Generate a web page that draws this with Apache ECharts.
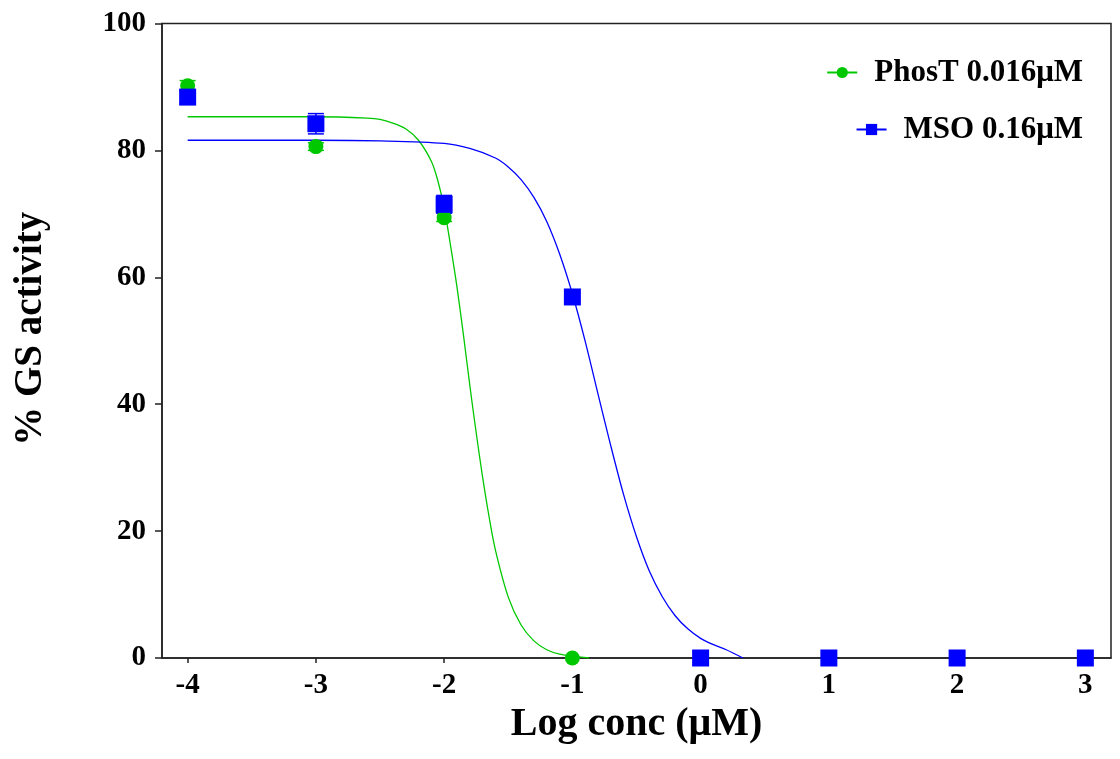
<!DOCTYPE html>
<html>
<head>
<meta charset="utf-8">
<script src="https://cdn.jsdelivr.net/npm/echarts@6/dist/echarts.min.js"></script>
<style>html,body{margin:0;padding:0;background:#fff}#c{width:1120px;height:759px}</style>
</head>
<body>
<div id="c"></div>
<script>
// ---- data ----
var xTicks = [-4, -3, -2, -1, 0, 1, 2, 3];
var yTicks = [0, 20, 40, 60, 80, 100];
var phosName = 'PhosT 0.016μM';
var msoName = 'MSO 0.16μM';
var phosX = [-4, -3, -2, -1];
var phosY = [90.2, 80.6, 69.4, 0];
var msoX = [-4, -3, -2, -1, 0, 1, 2, 3];
var msoY = [88.4, 84.2, 71.5, 56.9, 0, 0, 0, 0];
// error bars [x, low, high]
var phosErr = [[-4, 89.4, 91.0], [-3, 80.0, 81.2], [-2, 68.8, 70.2]];
var msoErr = [[-4, 87.4, 89.4], [-3, 82.6, 85.8], [-2, 70.1, 72.9], [-1, 56.2, 57.6]];
// fitted curves
var phosCurveX = [-4, -3, -2.6, -2.5, -2.4, -2.3, -2.2, -2.1, -2.05, -2.0, -1.95, -1.9, -1.85, -1.8, -1.75, -1.7, -1.65, -1.6, -1.5, -1.4, -1.3, -1.2, -1.1, -1.0, -0.87];
var phosCurveY = [85.3, 85.3, 85.1, 84.9, 84.3, 83.4, 81.6, 78.3, 75.3, 71.0, 65.0, 58.5, 51.0, 43.0, 35.5, 28.5, 22.3, 17.0, 9.6, 5.2, 2.7, 1.3, 0.6, 0.3, 0];
var msoCurveX = [-4, -3, -2.5, -2.0, -1.8, -1.6, -1.5, -1.4, -1.3, -1.2, -1.1, -1.0, -0.9, -0.8, -0.7, -0.6, -0.5, -0.4, -0.3, -0.2, -0.1, 0, 0.1, 0.2, 0.33];
var msoCurveY = [81.6, 81.6, 81.5, 81.1, 80.3, 78.8, 77.4, 75.4, 72.6, 68.8, 63.7, 57.4, 49.9, 41.6, 33.4, 25.7, 19.1, 13.7, 9.7, 6.7, 4.6, 3.1, 2.1, 1.3, 0];

var GREEN = '#00c800', BLUE = '#0000ff';
var FONT = 'Liberation Serif';

function zip(a, b) { return a.map(function (v, i) { return [v, b[i]]; }); }

function errRender(color) {
  return function (params, api) {
    var x = api.value(0), lo = api.value(1), hi = api.value(2);
    var p1 = api.coord([x, lo]), p2 = api.coord([x, hi]);
    var hw = 8;
    var st = { stroke: color, lineWidth: 1.5 };
    return { type: 'group', children: [
      { type: 'line', shape: { x1: p1[0], y1: p1[1], x2: p2[0], y2: p2[1] }, style: st },
      { type: 'line', shape: { x1: p1[0] - hw, y1: p1[1], x2: p1[0] + hw, y2: p1[1] }, style: st },
      { type: 'line', shape: { x1: p2[0] - hw, y1: p2[1], x2: p2[0] + hw, y2: p2[1] }, style: st }
    ]};
  };
}

var chart = echarts.init(document.getElementById('c'), null, { renderer: 'canvas' });
var legendText = { fontFamily: FONT, fontWeight: 'bold', fontSize: 31, color: '#000', padding: [0, 0, 0, 12] };
chart.setOption({
  backgroundColor: '#fff',
  animation: false,
  textStyle: { fontFamily: FONT },
  grid: { left: 162, right: 9, top: 23.5, bottom: 101, show: true, borderColor: '#222', borderWidth: 1.5, backgroundColor: 'transparent' },
  legend: [
    { data: [phosName], right: 32, top: 52, itemWidth: 30, itemHeight: 14, textStyle: legendText },
    { data: [msoName], right: 32, top: 109, itemWidth: 30, itemHeight: 14, textStyle: legendText }
  ],
  xAxis: {
    type: 'value', min: -4.2, max: 3.2,
    name: 'Log conc (μM)', nameLocation: 'middle', nameGap: 44,
    nameTextStyle: { fontFamily: FONT, fontWeight: 'bold', fontSize: 40, color: '#000' },
    axisLine: { show: true, onZero: false, lineStyle: { color: '#222', width: 1.5 } },
    axisTick: { show: true, length: 5, customValues: xTicks, lineStyle: { color: '#222', width: 1.5 } },
    axisLabel: { customValues: xTicks, margin: 13, fontFamily: FONT, fontWeight: 'bold', fontSize: 29, color: '#000' },
    splitLine: { show: false }
  },
  yAxis: {
    type: 'value', min: 0, max: 100, interval: 20,
    name: '% GS activity', nameLocation: 'middle', nameGap: 112, nameRotate: 90,
    nameTextStyle: { fontFamily: FONT, fontWeight: 'bold', fontSize: 39, color: '#000', padding: [0, 0, 0, 24] },
    axisLine: { show: true, onZero: false, lineStyle: { color: '#222', width: 1.5 } },
    axisTick: { show: true, length: 7, lineStyle: { color: '#222', width: 1.5 } },
    axisLabel: { margin: 16, fontFamily: FONT, fontWeight: 'bold', fontSize: 29, color: '#000' },
    splitLine: { show: false }
  },
  series: [
    { name: phosName, type: 'line', data: zip(phosCurveX, phosCurveY), smooth: 0.3, symbol: 'circle', symbolSize: 14, showSymbol: false,
      itemStyle: { color: GREEN }, lineStyle: { color: GREEN, width: 1.3 }, z: 2 },
    { name: msoName, type: 'line', data: zip(msoCurveX, msoCurveY), smooth: 0.3, symbol: 'rect', symbolSize: 14, showSymbol: false,
      itemStyle: { color: BLUE }, lineStyle: { color: BLUE, width: 1.3 }, z: 2 },
    { name: 'phosErr', type: 'custom', renderItem: errRender(GREEN), data: phosErr, encode: { x: 0, y: [1, 2] }, z: 3 },
    { name: 'msoErr', type: 'custom', renderItem: errRender(BLUE), data: msoErr, encode: { x: 0, y: [1, 2] }, z: 3 },
    { name: phosName, type: 'scatter', data: zip(phosX, phosY), symbol: 'circle', symbolSize: 15, itemStyle: { color: GREEN, opacity: 1 }, z: 4 },
    { name: msoName, type: 'scatter', data: zip(msoX, msoY), symbol: 'rect', symbolSize: 17, itemStyle: { color: BLUE, opacity: 1 }, z: 5 }
  ]
});
</script>
</body>
</html>
